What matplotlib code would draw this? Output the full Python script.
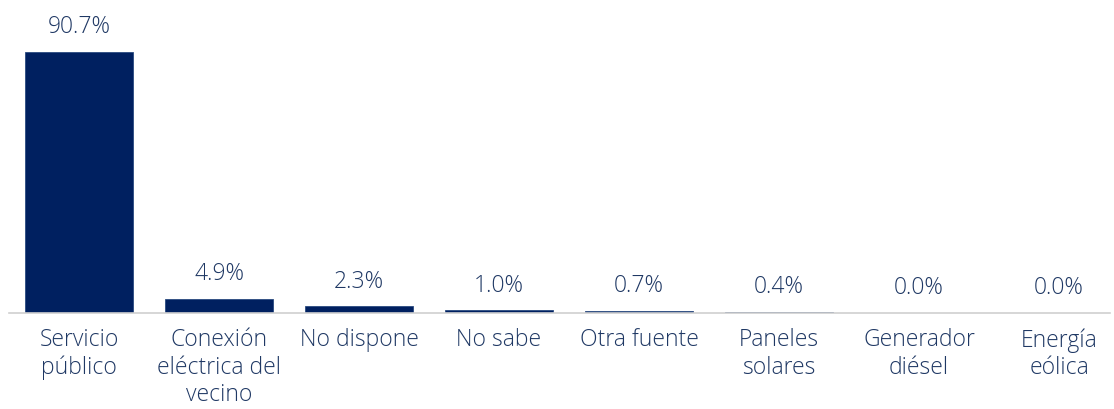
import matplotlib.pyplot as plt

categories = ["Servicio\npúblico", "Conexión\neléctrica del\nvecino", "No dispone",
              "No sabe", "Otra fuente", "Paneles\nsolares", "Generador\ndiésel",
              "Energía\neólica"]
values = [90.7, 4.9, 2.3, 1.0, 0.7, 0.4, 0.0, 0.0]

bar_color = "#002060"
text_color = "#1f3864"

plt.rcParams['font.family'] = ['Open Sans', 'DejaVu Sans']

fig = plt.figure(figsize=(11.14, 4.09), dpi=100)
ax = fig.add_axes([9 / 1114, 96 / 409, 1101 / 1114, 287.8 / 409])

x = range(len(values))
ax.bar(x, values, width=0.77, color=bar_color, edgecolor="#2a4a80", linewidth=0.6)

for xi, v in zip(x, values):
    ax.annotate(f"{v:.1f}%", (xi, v), xytext=(0, 9), textcoords="offset points",
                ha="center", va="bottom", fontsize=16.5, color=text_color,
                fontweight="light")

ax.set_xlim(-0.5, -0.5 + 1101 / 140)
ax.set_ylim(0, 100)
ax.set_xticks(list(x))
ax.set_xticklabels(categories, fontsize=16.5, color=text_color, linespacing=1.18,
                   fontweight="light")
ax.tick_params(axis="x", length=0, pad=11)
ax.set_yticks([])
for side in ["top", "right", "left"]:
    ax.spines[side].set_visible(False)
ax.spines["bottom"].set_color("#d0d0d0")
ax.spines["bottom"].set_linewidth(1.2)

fig.savefig("out.png", dpi=100)
